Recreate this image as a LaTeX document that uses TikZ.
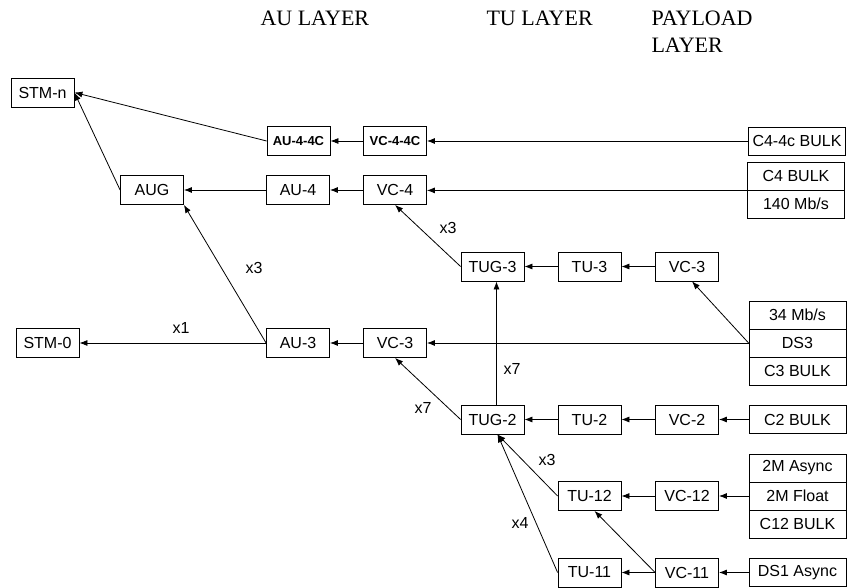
\documentclass[tikz,border=0pt]{standalone}
\usepackage{fontspec}
\setmainfont{Liberation Serif}
\setsansfont{Liberation Sans}
\usetikzlibrary{arrows.meta,positioning}
\tikzset{
    unit/.style={draw,line width=0.8pt,minimum width=63pt,minimum height=29pt,inner sep=0pt,
        font=\sffamily\fontsize{16}{16}\selectfont},
    bunit/.style={unit,font=\sffamily\bfseries\fontsize{13}{13}\selectfont},
    load/.style={unit,minimum width=97pt,minimum height=28pt},
    arr/.style={line width=0.8pt,-{Latex[length=8pt,width=6pt]}},
    mult/.style={font=\sffamily\fontsize{16}{16}\selectfont},
    layer/.style={anchor=base west,font=\fontsize{22}{26}\selectfont}
}

\begin{document}
\begin{tikzpicture}[x=1pt,y=-1pt]
    \useasboundingbox (0,0) rectangle (849,588);

    % layer headings
    \node[layer] (aulayer) at (257,26) {AU LAYER};
    \node[layer] (tulayer) at (483,26) {TU LAYER};
    \node[layer] (plLayer) at (648,26) {PAYLOAD};
    \node[layer] (plLayerb) at (648,53) {LAYER};

    % AU layer
    \node[unit] (stmn) at (42.5,92.5) {STM-n};
    \node[unit] (aug) at (152,190) {AUG};
    \node[unit] (stmo) at (47.5,343) {STM-0};
    \node[bunit] (au44c) at (298.5,141) {AU-4-4C};
    \node[bunit] (vc44c) at (395,141) {VC-4-4C};
    \node[unit] (au4) at (298,190) {AU-4};
    \node[unit] (vc4) at (395,190) {VC-4};
    \node[unit] (au3) at (298,343) {AU-3};
    \node[unit] (vc3) at (395,343) {VC-3};

    % TU layer
    \node[unit] (tug3) at (492.5,266.5) {TUG-3};
    \node[unit] (tu3) at (589.5,266.5) {TU-3};
    \node[unit] (vc3u) at (687,266.5) {VC-3};
    \node[unit] (tug2) at (492.5,419.5) {TUG-2};
    \node[unit] (tu2) at (589.5,419.5) {TU-2};
    \node[unit] (vc2) at (687,419.5) {VC-2};
    \node[unit] (tu12) at (589.5,496) {TU-12};
    \node[unit] (vc12) at (687,496) {VC-12};
    \node[unit] (tu11) at (589.5,572.5) {TU-11};
    \node[unit] (vc11) at (687,572.5) {VC-11};

    % payload layer
    \node[load] (c44c) at (797,141) {C4-4c BULK};
    \node[load] (c4bulk) at (796,176) {C4 BULK};
    \node[load] (mb140) at (796,204) {140 Mb/s};
    \node[load] (mb34) at (797.5,315) {34 Mb/s};
    \node[load] (ds3) at (797.5,343) {DS3};
    \node[load] (c3bulk) at (797.5,371) {C3 BULK};
    \node[load] (c2bulk) at (797.5,419.5) {C2 BULK};
    \node[load] (async2m) at (797.5,468) {2M Async};
    \node[load] (float2m) at (797.5,496) {2M Float};
    \node[load] (c12bulk) at (797.5,524) {C12 BULK};
    \node[load] (ds1) at (797.5,572.5) {DS1 Async};

    % connections
    \draw[arr] (c44c) -- (vc44c);
    \draw[arr] (vc44c) -- (au44c);
    \draw[arr] (au44c.west) -- (stmn.east);
    \draw[arr] (aug.west) -- (stmn.east);
    \draw[arr] (c4bulk.south west) -- (c4bulk.south west -| vc4.east);
    \draw[arr] (vc4) -- (au4);
    \draw[arr] (au4) -- (aug);
    \draw[arr] (au3.west) -- (aug.south east);
    \draw[arr] (au3) -- (stmo);
    \draw[arr] (vc3) -- (au3);
    \draw[arr] (ds3.west) -- (vc3);
    \draw[arr] (ds3.west) -- ([xshift=5pt]vc3u.south);
    \draw[arr] (vc3u) -- (tu3);
    \draw[arr] (tu3) -- (tug3);
    \draw[arr] (tug3.west) -- (vc4.south);
    \draw[arr] ([xshift=4pt]tug2.north) -- ([xshift=4pt]tug3.south);
    \draw[arr] (tug2.west) -- (vc3.south);
    \draw[arr] (c2bulk) -- (vc2);
    \draw[arr] (vc2) -- (tu2);
    \draw[arr] (tu2) -- (tug2);
    \draw[arr] (float2m) -- (vc12);
    \draw[arr] (vc12) -- (tu12);
    \draw[arr] (tu12.west) -- ([xshift=5pt]tug2.south);
    \draw[arr] (tu11.west) -- ([xshift=5pt]tug2.south);
    \draw[arr] (vc11.west) -- ([xshift=5pt]tu12.south);
    \draw[arr] (ds1) -- (vc11);
    \draw[arr] (vc11) -- (tu11);

    % multiplexing factors
    \node[mult] (nau3) at (254,268) {x3};
    \node[mult] (nstm) at (181,328) {x1};
    \node[mult] (ntug3) at (448,228) {x3};
    \node[mult] (nvc3) at (423,408) {x7};
    \node[mult] (ntug2) at (512,369) {x7};
    \node[mult] (ntu12) at (547,460) {x3};
    \node[mult] (ntu11) at (520,523) {x4};
\end{tikzpicture}
\end{document}
